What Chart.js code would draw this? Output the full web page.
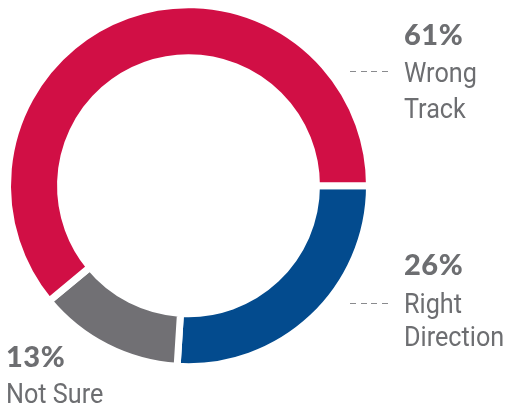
<!DOCTYPE html>
<html>
<head>
<meta charset="utf-8">
<script src="https://cdn.jsdelivr.net/npm/chart.js@4"></script>
<style>
  html, body { margin: 0; padding: 0; background: #fff; }
  #wrap { position: relative; width: 508px; height: 414px; overflow: hidden; }
  #chart { position: absolute; left: 0; top: 0; }
  .pct { position: absolute; font-family: Lato, "Open Sans", sans-serif; font-weight: 900; font-size: 29px; letter-spacing: 0.5px; color: #6d6e71; line-height: 1; white-space: nowrap; }
  .lbl { position: absolute; font-family: Roboto, sans-serif; font-size: 28px; color: #6d6e71; line-height: 1; white-space: nowrap; transform: scaleX(0.9); transform-origin: 0 0; }
  .lead { position: absolute; width: 38px; height: 1px; background: repeating-linear-gradient(to right, #8a8b8e 0 6px, transparent 6px 10.7px); }
</style>
</head>
<body>
<div id="wrap">
  <canvas id="chart" width="508" height="414"></canvas>
  <div class="pct" style="left:404px; top:19px;">61%</div>
  <div class="lead" style="left:350px; top:71px;"></div>
  <div class="lbl" style="left:404px; top:59px;">Wrong</div>
  <div class="lbl" style="left:404px; top:95px;">Track</div>

  <div class="pct" style="left:404px; top:249px;">26%</div>
  <div class="lead" style="left:350px; top:303px;"></div>
  <div class="lbl" style="left:404px; top:290px;">Right</div>
  <div class="lbl" style="left:404px; top:323px;">Direction</div>

  <div class="pct" style="left:6px; top:341px;">13%</div>
  <div class="lbl" style="left:6px; top:380px;">Not Sure</div>
</div>
<script>
'use strict';
var categories = ['Right Direction', 'Not Sure', 'Wrong Track'];
var values = [26, 13, 61];
var colors = ['#034b8e', '#717074', '#d10f45'];

var ctx = document.getElementById('chart');
var chart = new Chart(ctx, {
  type: 'doughnut',
  data: {
    labels: categories,
    datasets: [{
      data: values,
      backgroundColor: colors,
      borderColor: '#ffffff',
      borderWidth: 7,
      borderJoinStyle: 'miter',
      hoverOffset: 0
    }]
  },
  options: {
    responsive: false,
    animation: false,
    rotation: 90,
    cutout: '70.7%',
    layout: { padding: { left: 4, right: 135, top: 1.2, bottom: 43.8 } },
    plugins: { legend: { display: false }, tooltip: { enabled: false } },
    events: []
  }
});
</script>
</body>
</html>
